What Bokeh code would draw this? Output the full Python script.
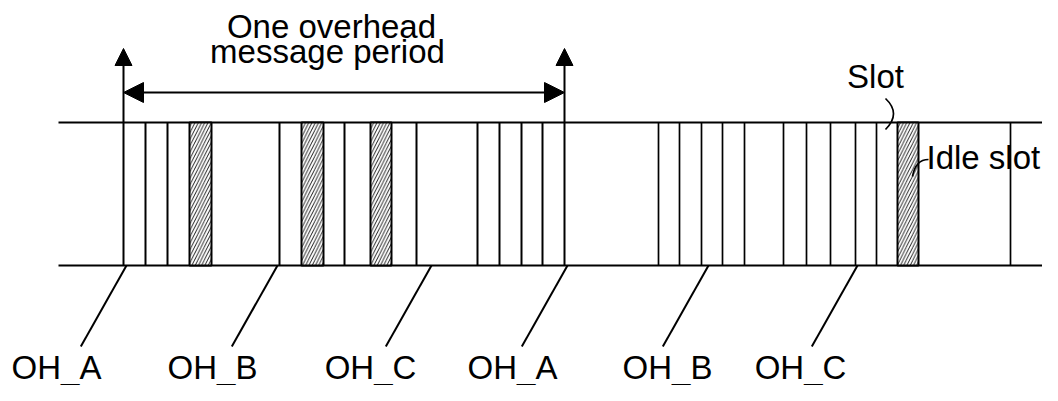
from bokeh.plotting import figure
from bokeh.models import Range1d, Arrow, NormalHead, ColumnDataSource
from bokeh.core.properties import value
from bokeh.embed import file_html
from bokeh.resources import INLINE

# ---- data (time axis in drawing units) ----
period_start = 123
period_end = 564
slot_edges_first = [123, 145, 167, 279, 344, 416, 477, 499, 521, 542, 564]
slot_edges_second = [658, 679, 701, 722, 744, 783, 806, 830, 855, 876, 1010]
idle_start = [189, 301, 370, 897]
idle_end = [211, 323, 391, 918]
oh_labels = ["OH_A", "OH_B", "OH_C", "OH_A", "OH_B", "OH_C"]
oh_anchor = [126, 277, 431, 567, 708, 857]
oh_label_x = [56, 212, 370, 512, 667, 800]
title_lines = ["One overhead", "message period"]

# ---- figure ----
W, H = 1042, 385
p = figure(width=W, height=H, x_range=Range1d(0, W), y_range=Range1d(H, 0),
           output_backend="svg", toolbar_location=None, min_border=0,
           x_axis_type=None, y_axis_type=None)
p.grid.visible = False
p.outline_line_color = None
p.background_fill_color = "white"

FONT = value("Liberation Sans")
FS = "33px"
TOP, BOT = 122, 265
LEAD_END = 346
LIFT = 11  # svg text renders slightly low; lift it


def ty(v):
    return v - LIFT


# frame lines
p.segment(x0=[58, 58], y0=[TOP, BOT], x1=[1060, 1060], y1=[TOP, BOT],
          line_color="black", line_width=2)

# slot boundaries
p.segment(x0=slot_edges_first, y0=TOP, x1=slot_edges_first, y1=BOT,
          line_color="black", line_width=2)
p.segment(x0=slot_edges_second, y0=TOP, x1=slot_edges_second, y1=BOT,
          line_color="black", line_width=1.7)

# idle slots (hatched)
p.quad(left=idle_start, right=idle_end, top=TOP, bottom=BOT,
       fill_color="white", line_color="black", line_width=2,
       hatch_pattern="/", hatch_color="black", hatch_scale=6.5, hatch_weight=0.9)

# period marker arrows
for xm in [period_start, period_end]:
    p.add_layout(Arrow(end=NormalHead(size=17, fill_color="black", line_color="black"),
                       x_start=xm, y_start=TOP, x_end=xm, y_end=48,
                       line_width=2, line_color="black"))
p.add_layout(Arrow(start=NormalHead(size=20, fill_color="black", line_color="black"),
                   end=NormalHead(size=20, fill_color="black", line_color="black"),
                   x_start=period_start, y_start=92, x_end=period_end, y_end=92,
                   line_width=2, line_color="black"))

# title text
p.text(x=[331, 327], y=[ty(37), ty(62)], text=title_lines, text_font=FONT,
       text_font_size=FS, text_align="center", text_baseline="alphabetic",
       text_color="black")

# OH leaders and labels
slope = 53 / 94
p.segment(x0=oh_anchor, y0=BOT, x1=[a - slope * (LEAD_END - BOT) for a in oh_anchor],
          y1=LEAD_END, line_color="black", line_width=2)
src = ColumnDataSource(dict(x=oh_label_x, text=oh_labels))
p.text(x="x", y=ty(378), text="text", source=src, text_font=FONT, text_font_size=FS,
       text_align="center", text_baseline="alphabetic", text_color="black")

# Slot label + curved leader
p.text(x=[875], y=[ty(87)], text=["Slot"], text_font=FONT, text_font_size=FS,
       text_align="center", text_baseline="alphabetic", text_color="black")
p.quadratic(x0=[885], y0=[98], x1=[885], y1=[129], cx=[901], cy=[113],
            line_color="black", line_width=1.7)

# Idle slot label + curved leader
p.text(x=[926], y=[ty(168)], text=["Idle slot"], text_font=FONT, text_font_size=FS,
       text_align="left", text_baseline="alphabetic", text_color="black")
p.quadratic(x0=[912], y0=[176], x1=[928], y1=[159], cx=[915], cy=[159],
            line_color="black", line_width=1.7)

open("out.html", "w").write(file_html(p, INLINE))
